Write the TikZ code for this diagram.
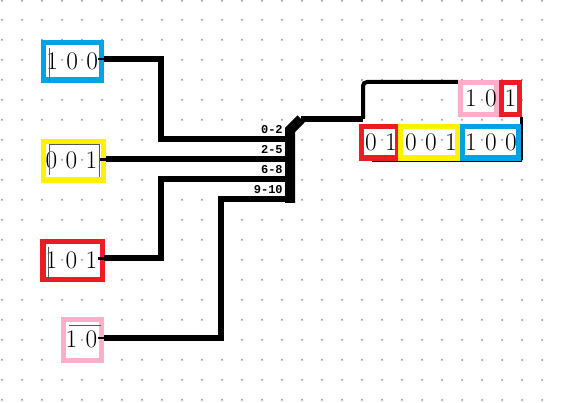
\documentclass[tikz,border=0pt]{standalone}
\usepackage{fontspec}
\setmonofont{Liberation Mono}
\definecolor{cblue}{HTML}{00A2E8}
\definecolor{cyel}{HTML}{FFF200}
\definecolor{cred}{HTML}{ED1C24}
\definecolor{cpink}{HTML}{FFAEC9}
\newcommand{\dg}[1]{\makebox[15pt][c]{#1}}
\newcommand{\cellbody}[4]{\parbox[c][#2pt][c]{#1pt}{\centering\makebox[0pt][c]{\hspace*{#3pt}\raisebox{0.75pt}{#4}}}}
\tikzset{
  x=0.75pt,y=-0.75pt,
  gdot/.style={fill=black!45,draw=none},
  cell/.style={draw=#1,line width=4pt,inner sep=0pt,outer sep=0pt,font=\fontsize{19pt}{19pt}\selectfont,anchor=center},
  wire/.style={line width=4.5pt,black,line join=miter},
  thin wire/.style={line width=3pt,black,rounded corners=3pt},
  stub/.style={line width=1.6pt,black},
  edge line/.style={line width=0.5pt,black!65},
  lab/.style={font=\ttfamily\bfseries\fontsize{9pt}{9pt}\selectfont,fill=white,inner sep=0.4pt,anchor=east},
}
\begin{document}
\begin{tikzpicture}
\useasboundingbox (0,0) rectangle (562,403);
\fill[white] (0,0) rectangle (562,403);
\foreach \i in {0,...,27}{\foreach \j in {0,...,20}{
  \fill[gdot] (2+20*\i,{max(1,20*\j)}) circle[radius=1];}}
\coordinate (p1) at (104,59); \coordinate (v1) at (161,139); \coordinate (b1) at (290,139);
\coordinate (p2) at (106,159.5); \coordinate (b2) at (290,159.5);
\coordinate (p3) at (104,258.5); \coordinate (v3) at (161,179); \coordinate (b3) at (290,179);
\coordinate (p4) at (104,338); \coordinate (v4) at (221,199); \coordinate (b4) at (290,199);
\coordinate (bt) at (290,130); \coordinate (bb) at (290,203);
\coordinate (d) at (301,119); \coordinate (s) at (363,119);
\coordinate (t) at (458,82); \coordinate (r) at (521.5,160.5);
\coordinate (bl) at (372,160.5);
% input cells
\node[cell=cblue] (a) at (72.5,61.3) {\cellbody{43.25}{28}{-0.5}{\dg{1}\dg{0}\dg{0}}};
\node[cell=cyel] (b) at (73.5,160.8) {\cellbody{44.75}{28.8}{-3}{\dg{0}\dg{0}\dg{1}}};
\node[cell=cred] (c) at (72.5,260.5) {\cellbody{44.5}{28.25}{-1.5}{\dg{1}\dg{0}\dg{1}}};
\node[cell=cpink] (e) at (82.5,340) {\cellbody{28.25}{30.3}{-1.5}{\dg{1}\dg{0}}};
\draw[edge line] (a.north west) ++(5.3,5.3) -- ++(0,33);
\draw[edge line] (b.south west) ++(5.3,-5.3) |- (99.5,144.5) -- (99.5,177.5);
\draw[edge line] (c.north west) ++(5.3,5.3) -- ++(0,33);
\draw[edge line] (e.north west) ++(5.3,5.3) -- ++(32,0);
% wires
\draw[wire] (p1) -| (v1) -- (b1);
\draw[wire] (p2) -- (b2);
\draw[wire] (p3) -| (v3) -- (b3);
\draw[wire] (p4) -| (v4) -- (b4);
\draw[line width=7.5pt,black] (bb) -- (bt) -- (d);
\draw[wire] (d) -- (s);
% labels
\node[lab] (l1) at (283.5,129.5) {0-2};
\node[lab] (l2) at (283.5,149.5) {2-5};
\node[lab] (l3) at (283.5,169.5) {6-8};
\node[lab] (l4) at (283.5,189.5) {9-10};
% output wires
\draw[thin wire] (s) -- (363,82) -- (t);
\draw[line width=3pt,black] (bl) -- (r);
\draw[line width=2pt,black] (r) -- (521.5,117);
% output cells
\node[cell=cpink] (f) at (478.5,98.5) {\cellbody{26.75}{23.75}{3.75}{\dg{1}\dg{0}}};
\node[cell=cred] (g) at (510.5,98.5) {\cellbody{13.25}{23.75}{0}{1}};
\node[cell=cred] (h) at (379.5,142.3) {\cellbody{26.75}{23.5}{2.25}{\dg{0}\dg{1}}};
\node[cell=cyel] (i) at (429,142.3) {\cellbody{42.5}{23.5}{3}{\dg{0}\dg{0}\dg{1}}};
\node[cell=cblue] (j) at (490.5,142.3) {\cellbody{41.75}{23.5}{0.75}{\dg{1}\dg{0}\dg{0}}};
% stubs
\draw[stub] (p1) ++(-6,0) -- (p1);
\draw[stub] (p2) ++(-6,0) -- (p2);
\draw[stub] (p3) ++(-6,0) -- (p3);
\draw[stub] (p4) ++(-6,0) -- (p4);
\end{tikzpicture}
\end{document}
